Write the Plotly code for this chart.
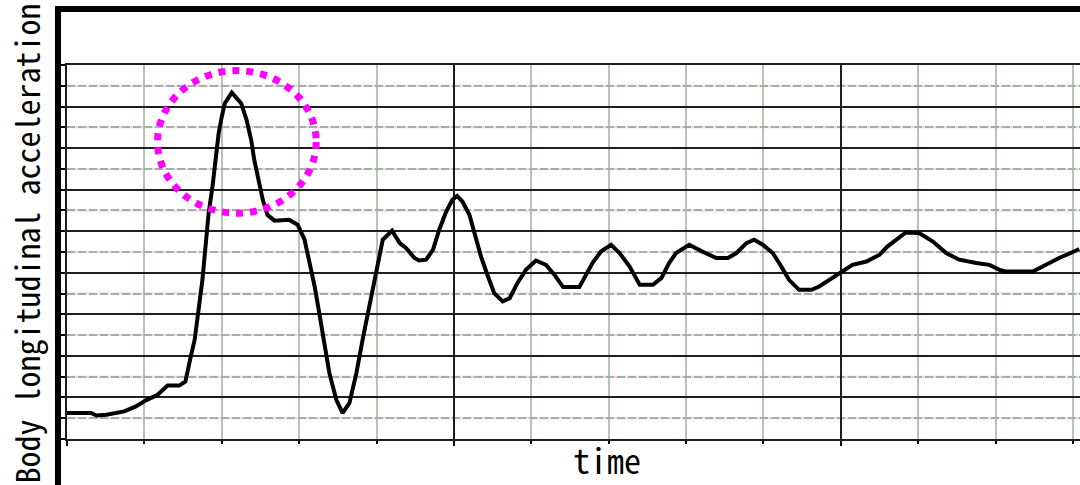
import plotly.graph_objects as go

# Sampled trace of body longitudinal acceleration against time (grid units)
time = [
    0.00, 0.31, 0.38, 0.51, 0.74, 0.89, 1.02, 1.17, 1.30, 1.45, 1.53, 1.56,
    1.60, 1.65, 1.70, 1.75, 1.79, 1.83, 1.88, 1.91, 1.96, 2.00, 2.04, 2.13,
    2.25, 2.32, 2.38, 2.42, 2.47, 2.53, 2.59, 2.68, 2.87, 2.98, 3.07, 3.13,
    3.20, 3.26, 3.33, 3.39, 3.48, 3.56, 3.65, 3.74, 3.82, 3.91, 3.99, 4.08,
    4.20, 4.30, 4.38, 4.49, 4.55, 4.64, 4.73, 4.81, 4.90, 4.98, 5.04, 5.11,
    5.20, 5.26, 5.35, 5.44, 5.52, 5.63, 5.72, 5.82, 5.93, 6.06, 6.19, 6.30,
    6.41, 6.62, 6.71, 6.79, 6.90, 7.03, 7.14, 7.27, 7.40, 7.57, 7.68, 7.78,
    7.87, 8.04, 8.21, 8.39, 8.54, 8.65, 8.78, 8.88, 8.99, 9.12, 9.23, 9.33,
    9.46, 9.62, 9.72, 9.85, 10.00, 10.15, 10.33, 10.50, 10.60, 10.71, 10.84,
    11.01, 11.19, 11.36, 11.53, 11.75, 11.92, 12.05, 12.13, 12.48, 12.65,
    12.82, 13.04, 13.08,
]
accel = [
    1.25, 1.25, 1.13, 1.17, 1.33, 1.57, 1.86, 2.13, 2.57, 2.57, 2.77, 3.34,
    3.98, 4.78, 6.06, 7.66, 9.26, 10.87, 12.15, 13.27, 14.72, 15.51, 16.16, 16.67,
    16.16, 15.36, 14.39, 13.43, 12.47, 11.51, 10.79, 10.51, 10.55, 10.31, 9.59, 8.63,
    7.34, 6.06, 4.62, 3.18, 1.89, 1.25, 1.74, 3.18, 4.78, 6.38, 7.98, 9.59,
    10.03, 9.43, 9.19, 8.71, 8.59, 8.63, 9.11, 10.07, 10.95, 11.51, 11.70, 11.43,
    10.79, 9.91, 8.78, 7.82, 7.02, 6.62, 6.78, 7.50, 8.14, 8.59, 8.38, 7.90,
    7.31, 7.31, 7.98, 8.47, 9.02, 9.35, 8.95, 8.30, 7.42, 7.42, 7.74, 8.47,
    8.95, 9.35, 9.02, 8.71, 8.71, 8.95, 9.43, 9.59, 9.35, 8.95, 8.30, 7.66,
    7.18, 7.18, 7.34, 7.66, 8.06, 8.38, 8.54, 8.87, 9.26, 9.59, 9.94,
    9.91, 9.50, 8.95, 8.63, 8.47, 8.38, 8.14, 8.06, 8.06, 8.38,
    8.71, 9.07, 9.14,
]

# Axis extents and grid spacing
x_range = [0, 13.09]
y_range = [0, 18]
x_major, x_minor = 5, 1
y_major, y_minor = 2, 1

# Highlight ellipse around the first peak (data units)
peak_box = dict(x0=1.17, x1=3.22, y0=10.87, y1=17.73)

title_font = "Noto Sans Mono CJK JP, DejaVu Sans Mono, monospace"

fig = go.Figure()
fig.add_trace(go.Scatter(
    x=time, y=accel, mode="lines",
    line=dict(color="black", width=4),
    hoverinfo="skip", showlegend=False,
))

shapes = []
# pink underlay for the dashed minor horizontal grid lines
k = y_range[0] + y_minor
while k < y_range[1]:
    if k % y_major != 0:
        shapes.append(dict(type="line", xref="x", yref="y", x0=x_range[0], x1=x_range[1],
                           y0=k, y1=k, layer="below",
                           line=dict(color="#f6cdf6", width=2)))
    k += y_minor

# dotted highlight ellipse
shapes.append(dict(type="circle", xref="x", yref="y", layer="above",
                   line=dict(color="#ff00ff", width=7, dash="dot"), **peak_box))

# heavy outer frame
shapes.append(dict(type="rect", xref="paper", yref="paper",
                   x0=-0.0089, x1=1.2, y0=-0.3, y1=1.1497,
                   line=dict(color="black", width=6), layer="above"))

fig.update_layout(
    width=1080, height=485,
    margin=dict(l=67, r=0, t=65, b=46),
    paper_bgcolor="white", plot_bgcolor="white",
    shapes=shapes,
    showlegend=False,
    annotations=[
        dict(text="Body longitudinal acceleration", textangle=-90,
             xref="paper", yref="paper", x=-0.0405, y=0.5227,
             xanchor="center", yanchor="middle", showarrow=False,
             font=dict(family=title_font, size=32, color="black")),
        dict(text="time", xref="paper", yref="paper", x=0.533, y=-0.056,
             xanchor="center", yanchor="middle", showarrow=False,
             font=dict(family=title_font, size=34, color="black")),
    ],
)

fig.update_xaxes(
    range=x_range, tick0=0, dtick=x_major,
    showticklabels=False, ticks="outside", ticklen=5, tickwidth=2, tickcolor="black",
    showgrid=True, gridcolor="#1e1e1e", gridwidth=2,
    zeroline=False, showline=True, linecolor="#1e1e1e", linewidth=2, mirror=True,
    minor=dict(dtick=x_minor, tick0=0, ticks="outside", ticklen=3, tickwidth=2,
               tickcolor="black", showgrid=True, gridcolor="#b6c4b6", gridwidth=2),
)
fig.update_yaxes(
    range=y_range, tick0=0, dtick=y_major,
    showticklabels=False, ticks="outside", ticklen=6, tickwidth=2, tickcolor="black",
    showgrid=True, gridcolor="#1e1e1e", gridwidth=2,
    zeroline=False, showline=True, linecolor="#1e1e1e", linewidth=2,
    minor=dict(dtick=y_minor, tick0=0, ticks="outside", ticklen=6, tickwidth=2,
               tickcolor="black", showgrid=True, gridcolor="#a2b2a2", gridwidth=2,
               griddash="8px,3px"),
)

fig.write_html("out.html")
